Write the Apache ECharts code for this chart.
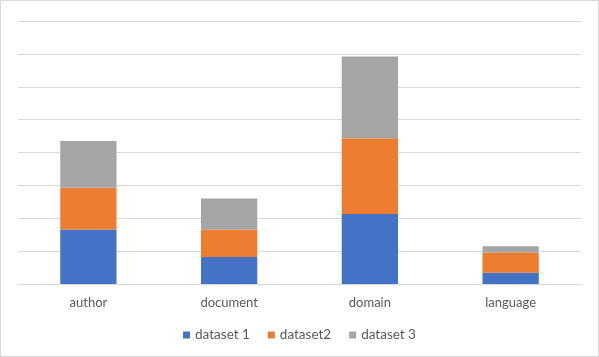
<!DOCTYPE html>
<html lang="en">
<head>
<meta charset="UTF-8">
<title>Stacked</title>
<script src="https://cdn.jsdelivr.net/npm/echarts@6/dist/echarts.min.js"></script>
<style>
  html, body { margin: 0; padding: 0; background: #fff; }
  #chart { width: 597px; height: 355px; border: 1px solid #d9d9d9; }
</style>
</head>
<body>
<div id="chart"></div>
<script>
var categories = ["author", "document", "domain", "language"];
var dataset1 = [1.66, 0.82, 2.13, 0.34];
var dataset2 = [1.27, 0.83, 2.30, 0.62];
var dataset3 = [1.42, 0.95, 2.49, 0.19];

var myChart = echarts.init(document.getElementById("chart"));
var font = "Lato, 'Open Sans', sans-serif";
var option = {
  animation: false,
  color: ["#4472C4", "#ED7D31", "#A5A5A5"],
  textStyle: { fontFamily: font },
  grid: { left: 17, right: 17, top: 20, bottom: 72 },
  legend: {
    bottom: 9,
    icon: "rect",
    itemWidth: 7,
    itemHeight: 7,
    itemGap: 18,
    textStyle: { color: "#595959", fontSize: 13.5, fontFamily: font },
    data: ["dataset 1", "dataset2", "dataset 3"]
  },
  xAxis: {
    type: "category",
    data: categories,
    axisTick: { show: false },
    axisLine: { lineStyle: { color: "#d9d9d9" } },
    axisLabel: { color: "#595959", fontSize: 13, margin: 12 }
  },
  yAxis: {
    type: "value",
    min: 0,
    max: 8,
    interval: 1,
    axisLabel: { show: false },
    axisLine: { show: false },
    axisTick: { show: false },
    splitLine: { lineStyle: { color: "#d9d9d9" } }
  },
  series: [
    { name: "dataset 1", type: "bar", stack: "s", barWidth: "40%", data: dataset1 },
    { name: "dataset2", type: "bar", stack: "s", barWidth: "40%", data: dataset2 },
    { name: "dataset 3", type: "bar", stack: "s", barWidth: "40%", data: dataset3 }
  ]
};
myChart.setOption(option);
</script>
</body>
</html>
